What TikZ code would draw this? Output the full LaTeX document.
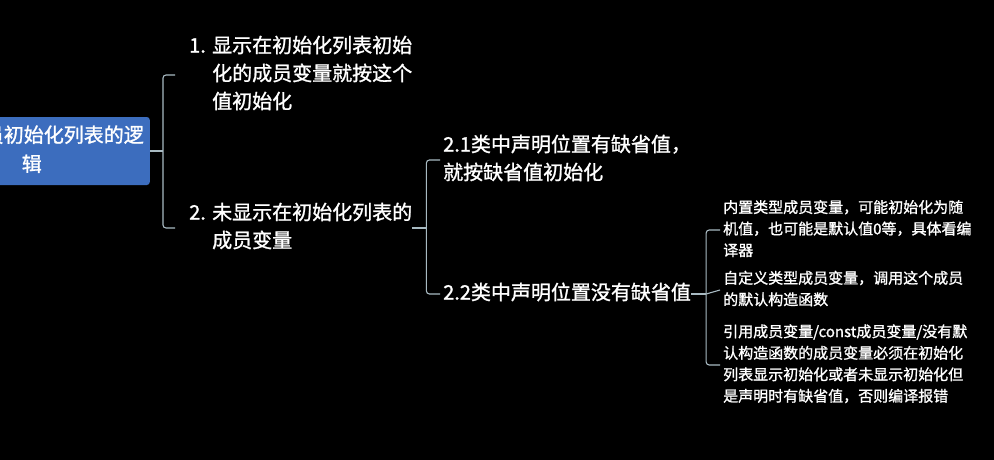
\documentclass[tikz,border=0pt]{standalone}
\usepackage{fontspec}
\setmainfont{Noto Sans CJK SC}
\newfontfamily\cjkb{Noto Sans CJK SC}[FakeBold=1.2]
\definecolor{rootblue}{HTML}{3C6DBE}
\definecolor{linec}{HTML}{A8BAC2}
\tikzset{
  conn/.style={draw=linec, line width=1.1pt, rounded corners=3pt},
  topic/.style={inner sep=0pt, text=white, anchor=west, font=\cjkb\fontsize{20}{28}\selectfont},
  leaf/.style={inner sep=0pt, text=white, anchor=west, font=\cjkb\fontsize{15}{21.5}\selectfont},
  rootbox/.style={rectangle, rounded corners=3pt, fill=rootblue, text=white, inner xsep=0pt,
    anchor=east, minimum height=68pt, text width=166pt, align=left, font=\cjkb\fontsize{20}{29}\selectfont},
}
\begin{document}
\begin{tikzpicture}[x=1pt, y=-1pt]
\fill[black] (0,0) rectangle (994,460);
\useasboundingbox (0,0) rectangle (994,460);
\begin{scope}
\clip (0,0) rectangle (994,460);
\node[rootbox] (root) at (150,151) {\begin{tabular}{@{}l@{}}员初始化列表的逻\\\hspace{38pt}辑\end{tabular}};
\end{scope}

\node[topic] (n1) at (189,75) {\begin{tabular}{@{}l@{}l@{}}\makebox[23pt][l]{1.}&显示在初始化列表初始\\&化的成员变量就按这个\\&值初始化\end{tabular}};
\node[topic] (n2) at (189,228) {\begin{tabular}{@{}l@{}l@{}}\makebox[23pt][l]{2.}&未显示在初始化列表的\\&成员变量\end{tabular}};
\node[topic] (n21) at (443,160) {\begin{tabular}{@{}l@{}}2.1类中声明位置有缺省值，\\就按缺省值初始化\end{tabular}};
\node[topic] (n22) at (443,294) {\begin{tabular}{@{}l@{}}2.2类中声明位置没有缺省值\end{tabular}};

\node[leaf] (l1) at (723,230) {\begin{tabular}{@{}l@{}}内置类型成员变量，可能初始化为随\\机值，也可能是默认值0等，具体看编\\译器\end{tabular}};
\node[leaf] (l2) at (723,290) {\begin{tabular}{@{}l@{}}自定义类型成员变量，调用这个成员\\的默认构造函数\end{tabular}};
\node[leaf] (l3) at (723,365) {\begin{tabular}{@{}l@{}}引用成员变量/const成员变量/没有默\\认构造函数的成员变量必须在初始化\\列表显示初始化或者未显示初始化但\\是声明时有缺省值，否则编译报错\end{tabular}};

% connectors
\draw[conn] (root.east) -- ++(13,0) coordinate (b1);
\draw[conn] ([xshift=-14pt]n1.west) -| (b1) |- ([xshift=-14pt]n2.west);
\draw[conn] (n2.east) -- ++(14,0) coordinate (b2);
\draw[conn] ([xshift=-3pt]n21.west) -| (b2) |- ([xshift=-3pt]n22.west);
\draw[conn] (n22.east) -- ++(15,0) coordinate (b3);
\draw[conn] ([xshift=-3pt]l1.west) -| (b3) |- ([xshift=-3pt]l3.west);
\draw[conn] (b3) -- ([xshift=-3pt]l2.west);
\end{tikzpicture}
\end{document}
